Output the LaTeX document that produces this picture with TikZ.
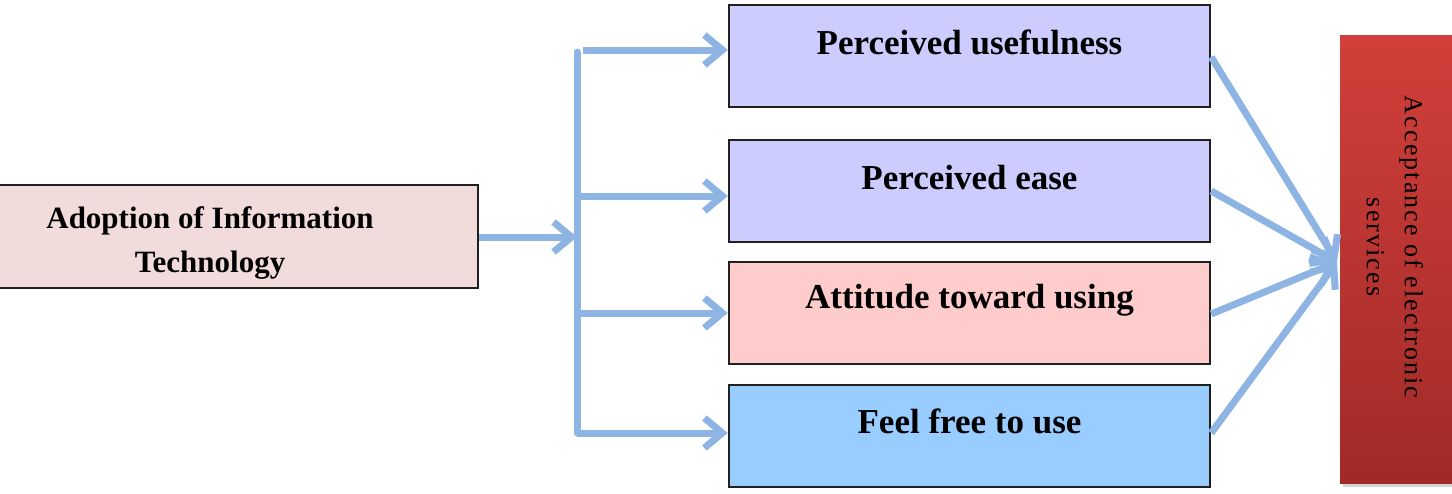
\documentclass[tikz,border=0pt]{standalone}
\usepackage{fontspec}
\setmainfont{Liberation Serif}
\usetikzlibrary{arrows.meta,shadows,fadings}
\definecolor{arrowblue}{HTML}{8EB4E3}
\definecolor{lavender}{HTML}{CCCCFF}
\definecolor{pinkbox}{HTML}{FFCCCC}
\definecolor{skyblue}{HTML}{99CCFF}
\definecolor{paleRose}{HTML}{F2DCDB}
\definecolor{redtop}{HTML}{D23F3A}
\definecolor{redbot}{HTML}{A02A28}
\definecolor{boxline}{HTML}{202020}
\tikzset{
  factor/.style={draw=boxline, line width=2.4pt, minimum width=481pt, minimum height=102pt, inner sep=0pt},
  ftext/.style={font=\bfseries\fontsize{35}{40}\selectfont, inner sep=0pt},
  flow/.style={draw=arrowblue, line width=7pt, -{Straight Barb[length=18pt,width=30pt,line width=7pt]}},
  bar/.style={draw=arrowblue, line width=7pt},
}
\begin{document}
\begin{tikzpicture}[x=1pt,y=-1pt]
\useasboundingbox (0,0) rectangle (1452,493);
% left box
\node[draw=boxline, line width=2.4pt, fill=paleRose, minimum width=480pt, minimum height=103pt, inner sep=0pt] (adopt) at (238,236.5) {};
\node[font=\bfseries\fontsize{31}{44}\selectfont, align=center, inner sep=0pt] (adoptt) at (210,243) {Adoption of Information\\Technology};
% factor boxes
\node[factor, fill=lavender] (pu) at (969.5,56) {};
\node[factor, fill=lavender] (pe) at (969.5,191) {};
\node[factor, fill=pinkbox] (at) at (969.5,313) {};
\node[factor, fill=skyblue] (ff) at (969.5,436) {};
\node[ftext] (put) at ([yshift=14pt]pu.center) {Perceived usefulness};
\node[ftext] (pet) at ([yshift=13pt]pe.center) {Perceived ease};
\node[ftext] (att) at ([yshift=13pt]at.center) {Attitude toward using};
\node[ftext] (fft) at ([yshift=15pt]ff.center) {Feel free to use};
% acceptance box
\node[minimum width=114pt, minimum height=448pt, inner sep=0pt, top color=redtop, bottom color=redbot, drop shadow={shadow xshift=3pt, shadow yshift=-4pt, opacity=0.35}] (acc) at (1397,259) {};
\node[rotate=-90, font=\fontsize{26}{38}\selectfont\addfontfeature{LetterSpace=8}, align=center, inner sep=0pt] (acct) at (1395,247) {Acceptance of electronic\\services};
% trunk
\coordinate (top) at (577,52);
\coordinate (bot) at (577,433);
\coordinate (mid) at (577,237);
\draw[bar, line cap=round] (top) -- (bot);
\draw[flow] (adopt.east |- mid) -- (mid);
\draw[flow] (583,50) -- (pu.west |- 0,50);
\draw[flow] (577,196) -- (pe.west |- 0,196);
\draw[flow] (577,313) -- (at.west |- 0,313);
\draw[flow] (bot) -- (ff.west |- bot);
% converging
\coordinate (conv) at (1337,262);
\draw[flow] (pu.east |- 0,57) -- (conv);
\draw[flow] (pe.east |- 0,191) -- (conv);
\draw[flow] (at.east |- 0,314) -- (conv);
\draw[flow] (ff.east |- 0,433) -- (conv);
\end{tikzpicture}
\end{document}
